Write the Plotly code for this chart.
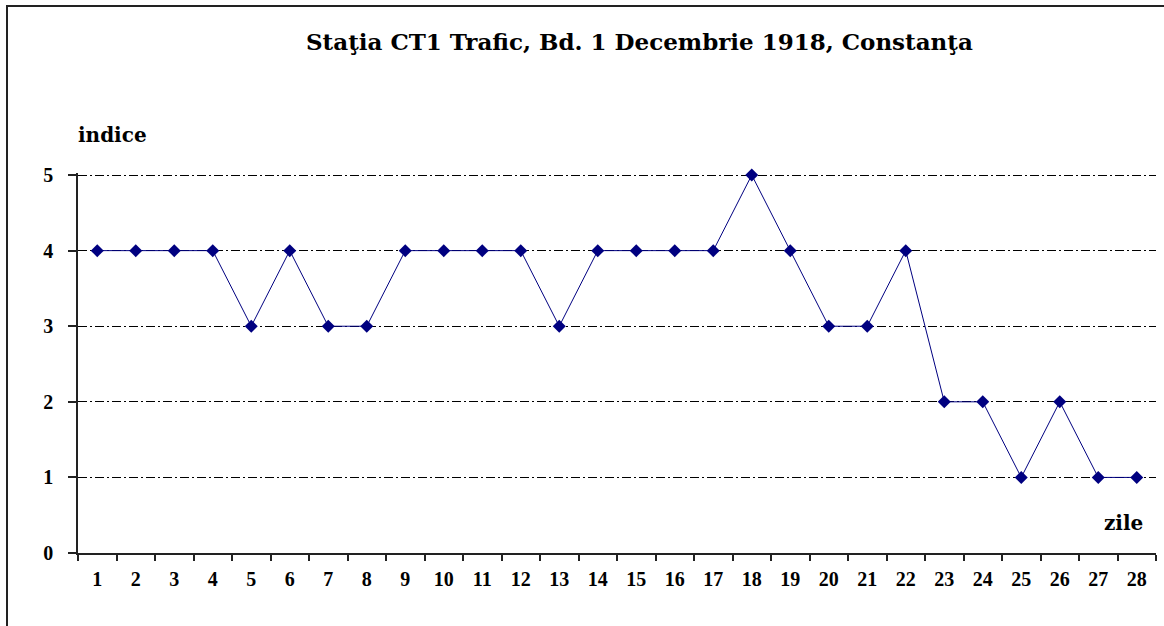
import plotly.graph_objects as go

days = [str(i) for i in range(1, 29)]
indice = [4, 4, 4, 4, 3, 4, 3, 3, 4, 4, 4, 4, 3, 4, 4, 4, 4, 5, 4, 3, 3, 4, 2, 2, 1, 2, 1, 1]
y_ticks = [0, 1, 2, 3, 4, 5]

W, H = 1164, 626
L, R, T, B = 78, 8, 173, 73
pw, ph = W - L - R, H - T - B

def px_x(px):
    return (px - L) / pw

def px_y(py):
    return (H - B - py) / ph

FONT = "Liberation Serif, Times New Roman, serif"
WIDE = "DejaVu Serif, serif"

fig = go.Figure()
fig.add_trace(go.Scatter(
    x=days, y=indice, mode="lines+markers",
    line=dict(color="#000080", width=1),
    marker=dict(symbol="diamond", size=10, color="#000080"),
    cliponaxis=False, showlegend=False,
))

fig.update_layout(
    width=W, height=H,
    margin=dict(l=L, r=R, t=T, b=B),
    paper_bgcolor="white", plot_bgcolor="white",
    font=dict(family=FONT, color="black"),
    xaxis=dict(
        type="category", tickson="boundaries", ticks="outside", ticklen=6,
        tickwidth=1.5, tickcolor="#222", showline=True, linecolor="#222", linewidth=1.5,
        showgrid=False, tickfont=dict(family=FONT, size=20, color="black", weight="bold"),
        ticklabelstandoff=7, range=[-0.5, 27.5], fixedrange=True,
    ),
    yaxis=dict(
        range=[0, 5.027], tickvals=y_ticks, ticks="outside", ticklen=8, tickwidth=1.5,
        tickcolor="#222", showline=True, linecolor="#222", linewidth=1.5,
        showgrid=True, gridcolor="black", gridwidth=1, griddash="9px,3px,2px,3px",
        zeroline=False, tickfont=dict(family=FONT, size=20, color="black", weight="bold"),
        ticklabelstandoff=11, fixedrange=True,
    ),
    shapes=[dict(type="rect", xref="paper", yref="paper",
                 x0=px_x(7), x1=px_x(W + 20), y0=px_y(H + 20), y1=px_y(6),
                 line=dict(color="#222", width=2), fillcolor="rgba(0,0,0,0)", layer="below")],
    annotations=[
        dict(text="Staţia CT1 Trafic, Bd. 1 Decembrie 1918, Constanţa", xref="paper", yref="paper",
             x=px_x(639), y=px_y(41), xanchor="center", yanchor="middle", showarrow=False,
             font=dict(family=WIDE, size=23, color="black", weight="bold")),
        dict(text="indice", xref="paper", yref="paper", x=px_x(76), y=px_y(135),
             xanchor="left", yanchor="middle", showarrow=False,
             font=dict(family=WIDE, size=20, color="black", weight="bold")),
        dict(text="zile", xref="paper", yref="paper", x=px_x(1145), y=px_y(523),
             xanchor="right", yanchor="middle", showarrow=False,
             font=dict(family=WIDE, size=20, color="black", weight="bold")),
    ],
)

fig.write_html("out.html", config={"displayModeBar": False},
               post_script="document.documentElement.style.margin='0';document.body.style.margin='0';document.body.style.overflow='hidden';")
